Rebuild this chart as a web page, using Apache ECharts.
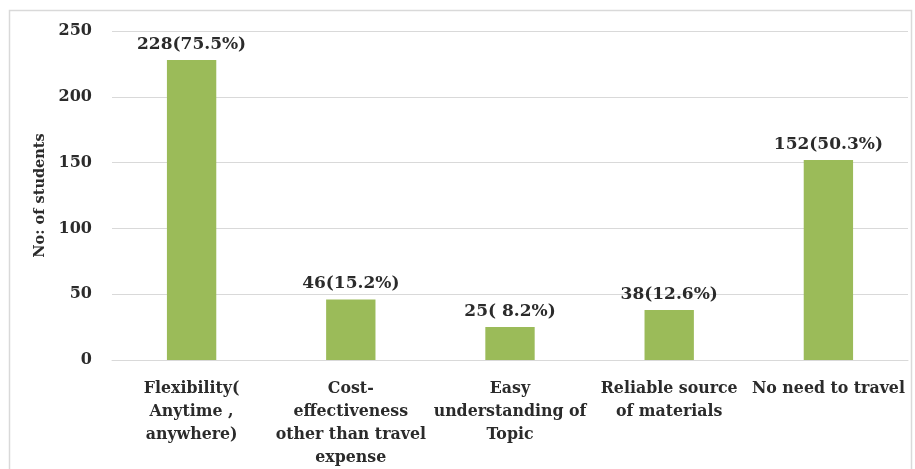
<!DOCTYPE html>
<html>
<head>
<meta charset="utf-8">
<script src="https://cdn.jsdelivr.net/npm/echarts@6/dist/echarts.min.js"></script>
<style>
html,body{margin:0;padding:0;background:#fff;}
#c{width:915px;height:469px;}
</style>
</head>
<body>
<div id="c"></div>
<script>
const categories = [
  "Flexibility(\nAnytime ,\nanywhere)",
  "Cost-\neffectiveness\nother than travel\nexpense",
  "Easy\nunderstanding of\nTopic",
  "Reliable source\nof materials",
  "No need to travel"
];
const counts = [228, 46, 25, 38, 152];
const percents = ["75.5%", "15.2%", " 8.2%", "12.6%", "50.3%"];
const yTicks = [0, 50, 100, 150, 200, 250];

const FONT = "DejaVu Serif";
const chart = echarts.init(document.getElementById('c'), null, {renderer:'canvas'});
chart.setOption({
  animation: false,
  backgroundColor: '#ffffff',
  graphic: [{
    type: 'rect',
    shape: {x: 9.5, y: 10.5, width: 902, height: 470},
    style: {fill: 'none', stroke: '#d9d9d9', lineWidth: 1.5},
    silent: true
  }],
  grid: {left: 112, right: 7, top: 31, bottom: 109},
  xAxis: {
    type: 'category',
    data: categories,
    axisLine: {show: true, lineStyle: {color: '#d9d9d9', width: 1}},
    axisTick: {show: false},
    axisLabel: {
      interval: 0,
      margin: 17,
      color: '#2b2b2b',
      fontFamily: FONT,
      fontWeight: 'bold',
      fontSize: 15.8,
      lineHeight: 23
    }
  },
  yAxis: {
    type: 'value',
    min: yTicks[0],
    max: yTicks[yTicks.length - 1],
    interval: yTicks[1] - yTicks[0],
    name: 'No: of students',
    nameLocation: 'middle',
    nameGap: 62,
    nameTextStyle: {color: '#2b2b2b', fontFamily: FONT, fontWeight: 'bold', fontSize: 14.5},
    axisLine: {show: false},
    axisTick: {show: false},
    splitLine: {lineStyle: {color: '#d9d9d9', width: 1}},
    axisLabel: {
      margin: 20,
      color: '#2b2b2b',
      fontFamily: FONT,
      fontWeight: 'bold',
      fontSize: 16
    }
  },
  series: [{
    type: 'bar',
    data: counts,
    barWidth: '31%',
    itemStyle: {color: '#9bbb59'},
    label: {
      show: true,
      position: 'top',
      distance: 7,
      color: '#2b2b2b',
      fontFamily: FONT,
      fontWeight: 'bold',
      fontSize: 17,
      formatter: p => p.value + '(' + percents[p.dataIndex] + ')'
    }
  }]
});
</script>
</body>
</html>
